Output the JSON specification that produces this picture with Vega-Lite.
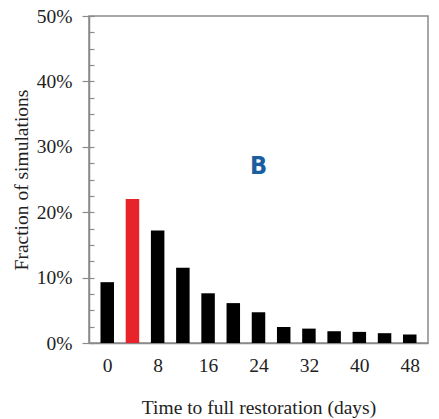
{
  "$schema": "https://vega.github.io/schema/vega-lite/v6.json",
  "width": 339,
  "height": 327,
  "autosize": {"type": "none"},
  "padding": {"left": 89, "top": 16, "right": 11, "bottom": 76},
  "background": "white",
  "config": {"view": {"stroke": "#8a8a8a", "strokeWidth": 1.5}, "font": "Liberation Serif"},
  "layer": [
    {
      "data": {"values": [
        {"days": 0, "fraction": 0.093, "highlight": "no"},
        {"days": 4, "fraction": 0.22, "highlight": "yes"},
        {"days": 8, "fraction": 0.172, "highlight": "no"},
        {"days": 12, "fraction": 0.115, "highlight": "no"},
        {"days": 16, "fraction": 0.076, "highlight": "no"},
        {"days": 20, "fraction": 0.061, "highlight": "no"},
        {"days": 24, "fraction": 0.047, "highlight": "no"},
        {"days": 28, "fraction": 0.0245, "highlight": "no"},
        {"days": 32, "fraction": 0.022, "highlight": "no"},
        {"days": 36, "fraction": 0.018, "highlight": "no"},
        {"days": 40, "fraction": 0.017, "highlight": "no"},
        {"days": 44, "fraction": 0.015, "highlight": "no"},
        {"days": 48, "fraction": 0.013, "highlight": "no"}
      ]},
      "mark": {"type": "bar", "size": 13.5},
      "encoding": {
        "x": {"field": "days", "type": "quantitative",
          "scale": {"domain": [-2.1, 50.1], "nice": false, "zero": false},
          "axis": {"values": [0, 8, 16, 24, 32, 40, 48], "ticks": false, "grid": false,
            "domainColor": "#8a8a8a", "domainWidth": 1.5,
            "labelFont": "Liberation Serif", "labelFontSize": 19.5, "labelColor": "#222", "labelPadding": 13,
            "title": "Time to full restoration (days)", "titleFont": "Liberation Serif", "titleFontSize": 19.5,
            "titleFontWeight": "normal", "titleColor": "#222", "titlePadding": 24}},
        "y": {"field": "fraction", "type": "quantitative",
          "scale": {"domain": [0, 0.5], "nice": false},
          "axis": {"values": [0, 0.1, 0.2, 0.3, 0.4, 0.5], "format": ".0%", "grid": false,
            "tickSize": 7, "tickColor": "#8a8a8a", "tickWidth": 1.2,
            "domainColor": "#8a8a8a", "domainWidth": 1.5,
            "labelFont": "Liberation Serif", "labelFontSize": 19.5, "labelColor": "#222", "labelPadding": 10,
            "title": "Fraction of simulations", "titleFont": "Liberation Serif", "titleFontSize": 19.5,
            "titleFontWeight": "normal", "titleColor": "#222", "titlePadding": 5}},
        "color": {"field": "highlight", "type": "nominal",
          "scale": {"domain": ["no", "yes"], "range": ["#000000", "#e8232a"]}, "legend": null}
      }
    },
    {
      "data": {"values": [{"x": 24, "y": 0.27, "label": "B"}]},
      "mark": {"type": "text", "font": "DejaVu Sans Condensed", "fontWeight": "bold", "fontSize": 25, "color": "#1a5e9f", "baseline": "middle", "align": "center"},
      "encoding": {
        "x": {"field": "x", "type": "quantitative"},
        "y": {"field": "y", "type": "quantitative",
          "axis": {"orient": "left", "values": [0, 0.025, 0.05, 0.075, 0.1, 0.125, 0.15, 0.175, 0.2, 0.225, 0.25, 0.275, 0.3, 0.325, 0.35, 0.375, 0.4, 0.425, 0.45, 0.475, 0.5],
            "labels": false, "title": null, "domain": false, "grid": false,
            "tickSize": -5, "tickColor": "#8a8a8a", "tickWidth": 1.2}},
        "text": {"field": "label"}
      }
    }
  ],
  "resolve": {"axis": {"y": "independent"}}
}
